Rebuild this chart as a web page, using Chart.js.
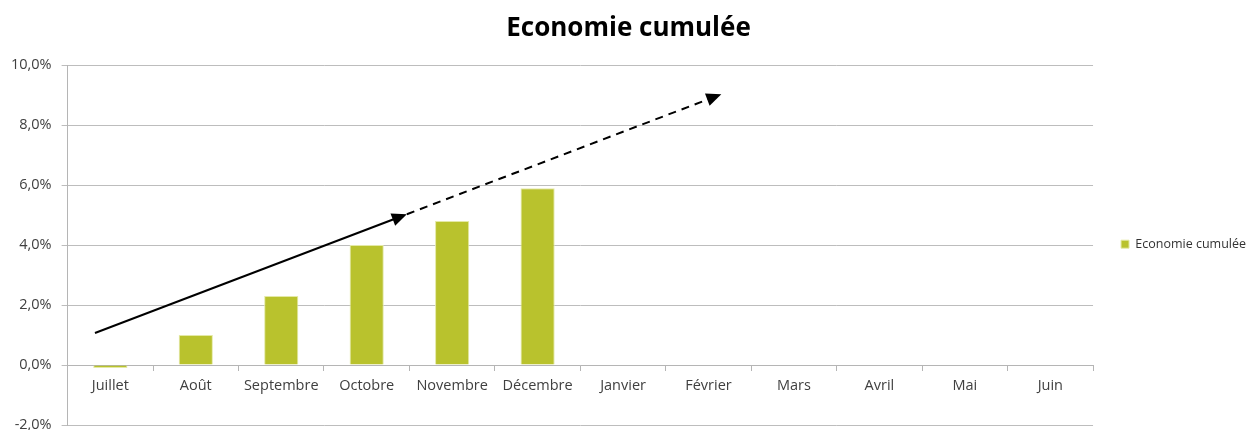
<!DOCTYPE html>
<html>
<head>
  <title>Economie cumulée</title>
  <script src="https://cdn.jsdelivr.net/npm/chart.js"></script>
<style>
body {
  margin: 0;
  padding: 0;
  background: #ffffff;
}
.wrap {
  width: 1251px;
  height: 430px;
}
</style>
</head>
<body>

  <div class="wrap">
    <canvas id="ecoChart"></canvas>
  </div>

  <script>
    const months = ['Juillet', 'Août', 'Septembre', 'Octobre', 'Novembre', 'Décembre',
                    'Janvier', 'Février', 'Mars', 'Avril', 'Mai', 'Juin'];
    const economie = [-0.1, 1.0, 2.3, 4.0, 4.8, 5.9, null, null, null, null, null, null];

    // trend arrows, in chart units: [category index, value %]
    const trendSolid = [[-0.18, 1.07], [3.47, 5.03]];
    const trendDashed = [[3.47, 5.03], [7.15, 9.03]];

    const barColor = '#b9c22d';

    // draw an arrow between two data points
    function drawArrow(ctx, x0, y0, x1, y1, dashed) {
      const ang = Math.atan2(y1 - y0, x1 - x0);
      const len = 15, half = 6.5;
      ctx.save();
      ctx.strokeStyle = '#000';
      ctx.fillStyle = '#000';
      ctx.lineWidth = 2;
      if (dashed) ctx.setLineDash([8, 6]);
      ctx.beginPath();
      ctx.moveTo(x0, y0);
      ctx.lineTo(x1 - Math.cos(ang) * len * 0.8, y1 - Math.sin(ang) * len * 0.8);
      ctx.stroke();
      ctx.setLineDash([]);
      ctx.beginPath();
      ctx.moveTo(x1, y1);
      ctx.lineTo(x1 - Math.cos(ang) * len - Math.sin(ang) * half, y1 - Math.sin(ang) * len + Math.cos(ang) * half);
      ctx.lineTo(x1 - Math.cos(ang) * len + Math.sin(ang) * half, y1 - Math.sin(ang) * len - Math.cos(ang) * half);
      ctx.closePath();
      ctx.fill();
      ctx.restore();
    }

    const trendArrows = {
      id: 'trendArrows',
      afterDatasetsDraw(chart) {
        const x = chart.scales.x, y = chart.scales.y;
        const ctx = chart.ctx;
        [[trendSolid, false], [trendDashed, true]].forEach(([pts, dashed]) => {
          drawArrow(ctx,
            x.getPixelForValue(pts[0][0]), y.getPixelForValue(pts[0][1]),
            x.getPixelForValue(pts[1][0]), y.getPixelForValue(pts[1][1]), dashed);
        });
      }
    };

    const ctx = document.getElementById('ecoChart').getContext('2d');
    const chart = new Chart(ctx, {
      type: 'bar',
      data: {
        labels: months,
        datasets: [{
          label: 'Economie cumulée',
          data: economie,
          backgroundColor: barColor,
          borderColor: '#e4e9a6',
          borderWidth: 1,
          categoryPercentage: 1,
          barPercentage: 0.4
        }]
      },
      options: {
        responsive: true,
        maintainAspectRatio: false,
        animation: false,
        layout: { padding: { left: 1, right: -5, top: 0, bottom: 0 } },
        plugins: {
          title: {
            display: true,
            text: 'Economie cumulée',
            color: '#000',
            font: { family: 'Open Sans', size: 26, weight: 'bold' },
            padding: { top: 13, bottom: 21 }
          },
          legend: {
            position: 'right',
            title: { display: true, text: '', padding: { top: 44, bottom: 0 } },
            labels: {
              boxWidth: 8,
              boxHeight: 8,
              padding: 28,
              color: '#333',
              font: { family: 'Open Sans', size: 12.5 }
            }
          },
          tooltip: { enabled: false }
        },
        scales: {
          x: {
            position: { y: 0 },
            grid: {
              display: true,
              drawOnChartArea: false,
              tickLength: 5,
              color: '#b5b5b5'
            },
            border: { display: true, color: '#b5b5b5' },
            ticks: {
              autoSkip: false,
              maxRotation: 0,
              padding: 7,
              color: '#404040',
              font: { family: 'Open Sans', size: 14.5 }
            }
          },
          y: {
            min: -2,
            max: 10,
            grid: { color: '#bdbdbd', tickLength: 6 },
            border: { display: true, color: '#b5b5b5' },
            ticks: {
              stepSize: 2,
              padding: 10,
              color: '#404040',
              font: { family: 'Open Sans', size: 14.5 },
              callback: (v) => v.toFixed(1).replace('.', ',') + '%'
            },
            // let the -2,0% label run to the bottom edge like the original
            afterFit: (scale) => {
              scale.paddingTop = 0;
              scale.paddingBottom = 5;
            }
          }
        }
      },
      plugins: [trendArrows]
    });
  </script>

</body>
</html>
